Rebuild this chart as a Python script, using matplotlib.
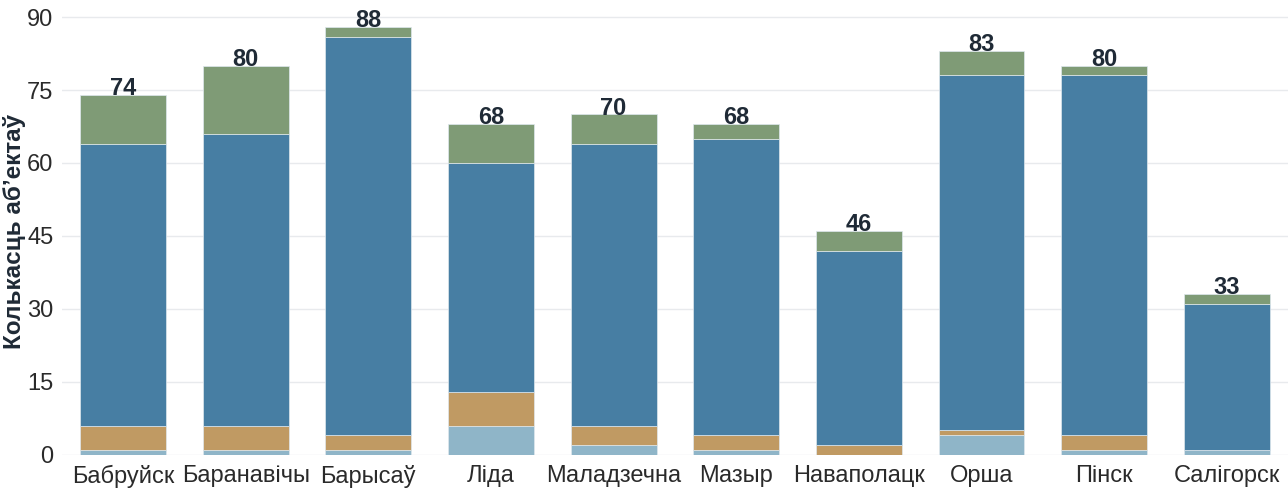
import matplotlib.pyplot as plt
import numpy as np

plt.rcParams['font.family'] = ['Liberation Sans', 'DejaVu Sans']

cities = ['Бабруйск', 'Баранавічы', 'Барысаў', 'Ліда', 'Маладзечна',
          'Мазыр', 'Наваполацк', 'Орша', 'Пінск', 'Салігорск']

# stacked segments, bottom to top
seg_light = [1, 1, 1, 6, 2, 1, 0, 4, 1, 1]
seg_orange = [5, 5, 3, 7, 4, 3, 2, 1, 3, 0]
seg_blue = [58, 60, 82, 47, 58, 61, 40, 73, 74, 30]
seg_green = [10, 14, 2, 8, 6, 3, 4, 5, 2, 2]

yticks = [0, 15, 30, 45, 60, 75, 90]

segments = [seg_light, seg_orange, seg_blue, seg_green]
colors = ['#8fb5c8', '#c09a63', '#477ea3', '#7f9b76']

fig, ax = plt.subplots(figsize=(12.88, 4.88), dpi=100)
x = np.arange(len(cities))
bottom = np.zeros(len(cities))
for seg, c in zip(segments, colors):
    ax.bar(x, seg, 0.7, bottom=bottom, color=c, edgecolor='#dfe8ee', linewidth=0.5, zorder=3)
    bottom += np.array(seg)

for xi, tot in zip(x, bottom):
    ax.text(xi, tot + 1.3, f'{int(tot)}', ha='center', va='center',
            fontsize=17, fontweight='bold', color='#1f2a36', zorder=4)

ax.set_xlim(-0.5, 9.5)
ax.set_ylim(0, 92)
ax.set_yticks(yticks)
ax.set_xticks(x)
ax.set_xticklabels(cities)
ax.tick_params(axis='both', length=0, labelsize=17, colors='#2a2a2a', pad=7)
ax.tick_params(axis='y', pad=6)
ax.grid(axis='y', color='#e8eaed', linewidth=1, zorder=0)
for s in ax.spines.values():
    s.set_visible(False)
ax.set_ylabel('Колькасць аб’ектаў', fontsize=17.5, fontweight='bold', color='#1f2a36')
ax.yaxis.set_label_coords(-0.0295, 0.5)

fig.subplots_adjust(left=0.048, right=1.0, top=0.985, bottom=0.068)
fig.savefig('out.png')
